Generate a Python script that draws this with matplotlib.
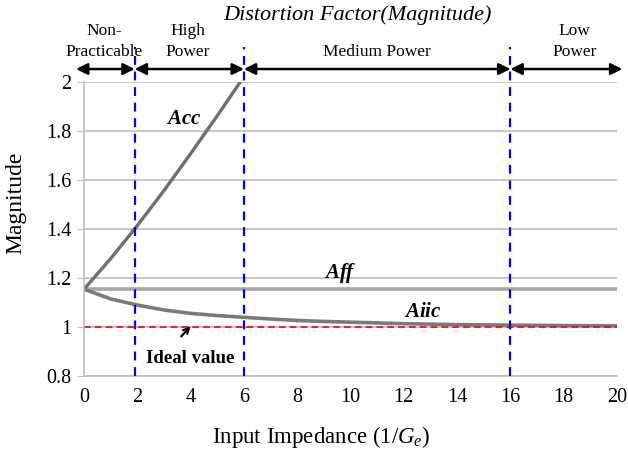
import matplotlib
matplotlib.use("Agg")
import matplotlib.pyplot as plt
import numpy as np

plt.rcParams['font.family'] = ['Liberation Serif', 'DejaVu Serif']
plt.rcParams['mathtext.fontset'] = 'custom'
plt.rcParams['mathtext.rm'] = 'Liberation Serif'
plt.rcParams['mathtext.it'] = 'Liberation Serif:italic'
plt.rcParams['mathtext.bf'] = 'Liberation Serif:bold:italic'

# curves of the distortion factor vs input impedance
x_acc = [0, 1, 2, 3, 4, 5, 6]
acc = [1.155, 1.28, 1.415, 1.558, 1.709, 1.864, 2.024]

x_aff = [0, 20]
aff = [1.155, 1.155]

x_aiic = [0, 1, 2, 3, 4, 5, 6, 7, 8, 9, 10, 12, 14, 16, 18, 20]
aiic = [1.155, 1.115, 1.09, 1.07, 1.056, 1.047, 1.04, 1.033, 1.027, 1.023,
        1.02, 1.014, 1.01, 1.008, 1.006, 1.005]

ideal = 1.0

# operating regions (bounds on the x axis) and their names
region_edges = [1.9, 6, 16]
arrow_spans = [(-0.3, 1.9), (1.9, 6), (6, 16), (16, 20.2)]
region_names = ["Non-\nPracticable", "High\nPower", "Medium Power", "Low\nPower"]
region_centers = [0.75, 3.9, 11.0, 18.4]

fig = plt.figure(figsize=(6.28, 4.49), dpi=100)
ax = fig.add_axes([0.1338, 0.1626, 0.9825 - 0.1338, 0.8163 - 0.1626])

ax.set_xlim(0, 20)
ax.set_ylim(0.8, 2.0)
ax.set_xticks(np.arange(0, 21, 2))
ax.set_yticks([0.8, 1, 1.2, 1.4, 1.6, 1.8, 2])
ax.set_yticklabels(["0.8", "1", "1.2", "1.4", "1.6", "1.8", "2"])
ax.yaxis.grid(True, color="#bfbfbf", lw=1.2)
ax.set_axisbelow(True)
for s in ["top", "right"]:
    ax.spines[s].set_visible(False)
for s in ["left", "bottom"]:
    ax.spines[s].set_color("#bfbfbf")
    ax.spines[s].set_linewidth(1.2)
ax.tick_params(axis="y", length=5, color="#bfbfbf", labelsize=14.5, pad=4)
ax.tick_params(axis="x", length=0, labelsize=14.5, pad=9)

ax.plot(x_aff, aff, color="#a6a6a6", lw=2.6, solid_capstyle="butt")
ax.plot(x_acc, acc, color="#6e6e6e", lw=2.4)
ax.plot(x_aiic, aiic, color="#7a7a7a", lw=2.6)
ax.plot([0, 20], [ideal, ideal], color="red", lw=1.2, ls=(0, (4, 2.5)))

top = 2.145
for xe in region_edges:
    ax.plot([xe, xe], [0.8, top], color="blue", lw=1.6, ls=(0, (4, 3)),
            clip_on=False, zorder=5)

arrow_y = 2.055
for (x0, x1) in arrow_spans:
    ax.annotate("", xy=(x1, arrow_y), xytext=(x0, arrow_y),
                arrowprops=dict(arrowstyle="<|-|>", color="black", lw=1.8,
                                mutation_scale=17, shrinkA=0, shrinkB=0),
                annotation_clip=False)

for name, xc in zip(region_names, region_centers):
    ax.text(xc, 2.09, name, ha="center", va="bottom", fontsize=12.5,
            linespacing=1.45, clip_on=False)

ax.text(3.75, 1.85, r"$\mathbf{A}\mathbf{cc}$", fontsize=15, ha="center", va="center")
ax.text(9.6, 1.22, r"$\mathbf{Aff}$", fontsize=15, ha="center", va="center")
ax.text(12.7, 1.06, r"$\mathbf{Aiic}$", fontsize=15, ha="center", va="center")

# label for the ideal line with a small pointer
ax.text(4.0, 0.872, "Ideal value", ha="center", va="center",
        fontsize=13.5, fontweight="bold")
ax.annotate("", xy=(4.0, 1.004), xytext=(3.65, 0.962),
            arrowprops=dict(arrowstyle="->", color="black", lw=1.6,
                            shrinkA=0, shrinkB=0))

fig.text(0.569, 0.966, "Distortion Factor(Magnitude)", ha="center", va="center",
         fontsize=16, style="italic")
fig.text(0.025, 0.548, "Magnitude", rotation=90, ha="center", va="center",
         fontsize=17)
fig.text(0.512, 0.027, r"Input Impedance (1/$G_e$)", ha="center", va="center",
         fontsize=16.5)

fig.savefig("out.png", dpi=100)
